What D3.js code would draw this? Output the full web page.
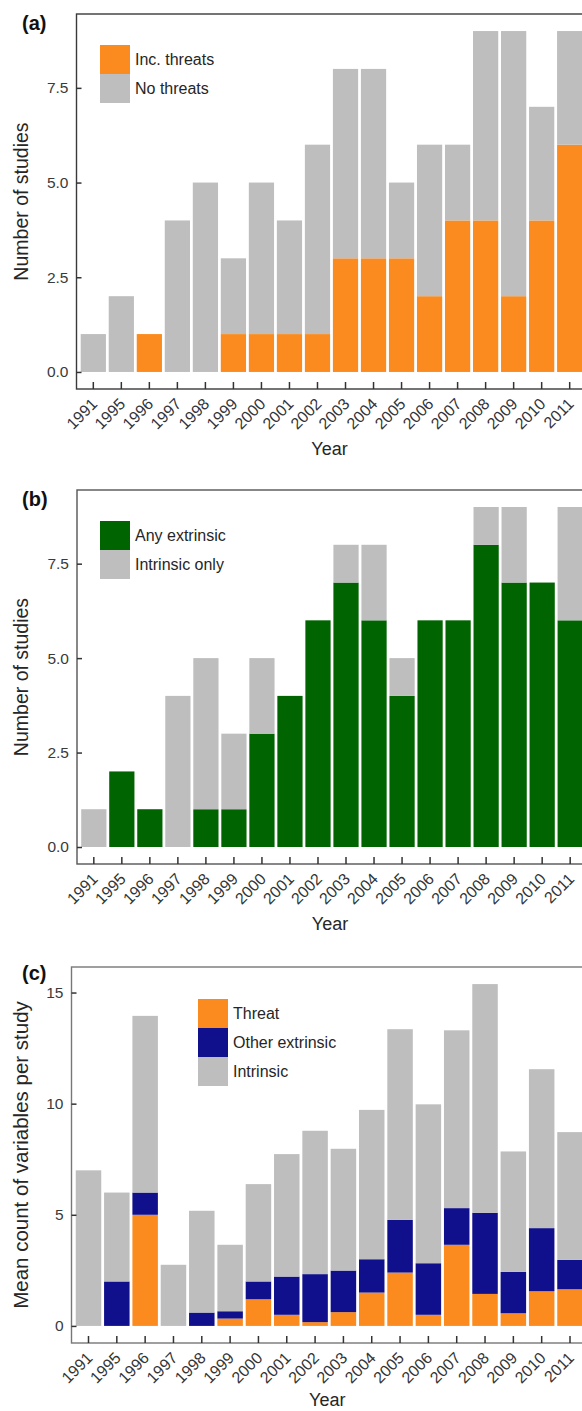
<!DOCTYPE html>
<html>
<head>
<meta charset="utf-8">
<script src="https://cdn.jsdelivr.net/npm/d3@7/dist/d3.min.js"></script>
<style>
  html, body { margin: 0; padding: 0; background: #fff; }
  svg { display: block; }
  text { font-family: "Liberation Sans", Arial, Helvetica, sans-serif; }
</style>
</head>
<body>
<svg id="chart" width="582" height="1411"></svg>
<script>
// ---------- data ----------
const years = ["1991","1995","1996","1997","1998","1999","2000","2001","2002","2003","2004","2005","2006","2007","2008","2009","2010","2011"];

// Panel (a): number of studies
const incThreats = [0,0,1,0,0,1,1,1,1,3,3,3,2,4,4,2,4,6];
const noThreats  = [1,2,0,4,5,2,4,3,5,5,5,2,4,2,5,7,3,3];

// Panel (b): number of studies
const anyExtrinsic  = [0,2,1,0,1,1,3,4,6,7,6,4,6,6,8,7,7,6];
const intrinsicOnly = [1,0,0,4,4,2,2,0,0,1,2,1,0,0,1,2,0,3];

// Panel (c): mean count of variables per study
const threatVars    = [0,0,5.0,0,0,0.33,1.2,0.5,0.17,0.62,1.5,2.4,0.5,3.65,1.44,0.57,1.56,1.65];
const otherExtrVars = [0,2.0,1.0,0,0.6,0.33,0.8,1.72,2.16,1.87,1.5,2.37,2.32,1.65,3.65,1.86,2.84,1.32];
const intrinsicVars = [7.0,4.0,7.95,2.75,4.58,2.99,4.38,5.51,6.45,5.48,6.72,8.58,7.15,8.0,10.29,5.42,7.15,5.75];

const ticksAB = [0, 2.5, 5, 7.5];
const ticksC  = [0, 5, 10, 15];

// ---------- style ----------
const ORANGE = "#fb8b1e", GRAY = "#bebebe", GREEN = "#006400", NAVY = "#10108c";

const svg = d3.select("#chart");

const panels = [
  { letter: "(a)", letterY: 30, top: 14, bottom: 389, left: 76.5, right: 586.5, border: "#3a3a3a",
    ylab: "Number of studies", ylabSize: 19.5, yearY: 66, ticks: ticksAB, fmt: d3.format(".1f"),
    series: [incThreats, noThreats], colors: [ORANGE, GRAY],
    legend: ["Inc. threats", "No threats"], legX: 100, legY: 45 },
  { letter: "(b)", letterY: 506, top: 490, bottom: 864, left: 77, right: 587, border: "#555",
    ylab: "Number of studies", ylabSize: 19.5, yearY: 66, ticks: ticksAB, fmt: d3.format(".1f"),
    series: [anyExtrinsic, intrinsicOnly], colors: [GREEN, GRAY],
    legend: ["Any extrinsic", "Intrinsic only"], legX: 100, legY: 521 },
  { letter: "(c)", letterY: 980, top: 967, bottom: 1343, left: 71.5, right: 587, border: "#777",
    ylab: "Mean count of variables per study", ylabSize: 20.5, yearY: 63, ticks: ticksC, fmt: d3.format("d"),
    series: [threatVars, otherExtrVars, intrinsicVars], colors: [ORANGE, NAVY, GRAY],
    legend: ["Threat", "Other extrinsic", "Intrinsic"], legX: 198, legY: 999 }
];

panels.forEach(p => {
  const g = svg.append("g");
  const rows = years.map((yr, i) => {
    const o = { year: yr };
    p.series.forEach((s, k) => o["s" + k] = s[i]);
    return o;
  });
  const keys = p.series.map((s, k) => "s" + k);
  const stacked = d3.stack().keys(keys)(rows);
  const maxV = d3.max(rows, r => d3.sum(keys, k => r[k]));

  const x = d3.scaleBand().domain(years).range([p.left, p.right])
    .paddingInner(0.1).paddingOuter(0.15);
  const y = d3.scaleLinear().domain([-0.05 * maxV, 1.05 * maxV]).range([p.bottom, p.top]);

  // bars
  stacked.forEach((layer, k) => {
    g.append("g").attr("fill", p.colors[k])
      .selectAll("rect").data(layer).join("rect")
      .attr("x", d => x(d.data.year))
      .attr("width", x.bandwidth())
      .attr("y", d => y(d[1]))
      .attr("height", d => Math.max(0, y(d[0]) - y(d[1])));
  });

  // border
  g.append("rect")
    .attr("x", p.left).attr("y", p.top)
    .attr("width", p.right - p.left).attr("height", p.bottom - p.top)
    .attr("fill", "none").attr("stroke", p.border).attr("stroke-width", 1.4);

  // y axis
  const ya = g.append("g").attr("transform", `translate(${p.left},0)`)
    .call(d3.axisLeft(y).tickValues(p.ticks).tickFormat(p.fmt).tickSize(-5).tickPadding(8));
  ya.select(".domain").remove();
  ya.selectAll(".tick line").attr("stroke", "#333").attr("stroke-width", 1.5);
  ya.selectAll(".tick text").attr("fill", "#3a3a3a").style("font-size", "15.5px");

  // x axis
  const xa = g.append("g").attr("transform", `translate(0,${p.bottom})`)
    .call(d3.axisBottom(x).tickSize(-7).tickSizeOuter(0));
  xa.select(".domain").remove();
  xa.selectAll(".tick line").attr("stroke", "#333").attr("stroke-width", 1.5);
  xa.selectAll(".tick text")
    .attr("fill", "#333").style("font-size", "16px")
    .attr("text-anchor", "end")
    .attr("y", null).attr("dy", null)
    .attr("transform", "translate(5,16) rotate(-45)");

  // axis titles
  g.append("text")
    .attr("x", (p.left + p.right) / 2 - 2).attr("y", p.bottom + p.yearY)
    .attr("text-anchor", "middle").attr("fill", "#262626")
    .style("font-size", "18px").text("Year");
  g.append("text")
    .attr("transform", `translate(28,${(p.top + p.bottom) / 2}) rotate(-90)`)
    .attr("text-anchor", "middle").attr("fill", "#262626")
    .style("font-size", p.ylabSize + "px").text(p.ylab);

  // panel letter
  g.append("text").attr("x", 22).attr("y", p.letterY)
    .style("font-size", "20px").style("font-weight", "bold").attr("fill", "#111")
    .text(p.letter);

  // legend
  const lg = g.append("g").attr("transform", `translate(${p.legX},${p.legY})`);
  p.legend.forEach((lab, k) => {
    lg.append("rect").attr("x", 0).attr("y", k * 29).attr("width", 30).attr("height", 29)
      .attr("fill", p.colors[k]);
    lg.append("text").attr("x", 35).attr("y", k * 29 + 14.5).attr("dy", "0.35em")
      .attr("fill", "#262626").style("font-size", "16px").text(lab);
  });
});
</script>
</body>
</html>
